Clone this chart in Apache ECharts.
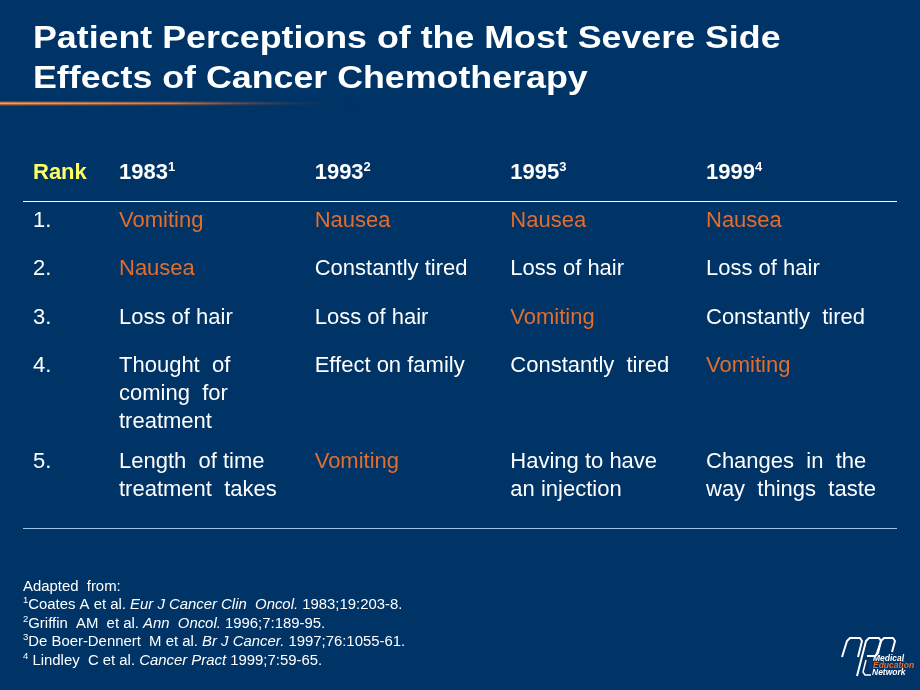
<!DOCTYPE html>
<html><head><meta charset="utf-8">
<style>html,body{margin:0;padding:0;background:#003366;}#c{width:920px;height:690px;}</style>
<script src="https://cdn.jsdelivr.net/npm/echarts@6/dist/echarts.min.js"></script>
</head><body><div id="c"></div>
<script>
// ---- data ----
const titleLines = ['Patient Perceptions of the Most Severe Side', 'Effects of Cancer Chemotherapy'];
const rankHeader = 'Rank';
const ranks = ['1.', '2.', '3.', '4.', '5.'];
const years = ['1983', '1993', '1995', '1999'];
const yearRefs = ['1', '2', '3', '4'];
const effects1983 = ['Vomiting', 'Nausea', 'Loss of hair', 'Thought  of\ncoming  for\ntreatment', 'Length  of time\ntreatment  takes'];
const effects1993 = ['Nausea', 'Constantly tired', 'Loss of hair', 'Effect on family', 'Vomiting'];
const effects1995 = ['Nausea', 'Loss of hair', 'Vomiting', 'Constantly  tired', 'Having to have\nan injection'];
const effects1999 = ['Nausea', 'Loss of hair', 'Constantly  tired', 'Vomiting', 'Changes  in  the\nway  things  taste'];
const highlighted = ['Nausea', 'Vomiting'];
const footnoteIntro = 'Adapted  from:';
const footnoteRefs = ['1', '2', '3', '4'];
const footnoteAuthors = ['Coates A et al. ', 'Griffin  AM  et al. ', 'De Boer-Dennert  M et al. ', ' Lindley  C et al. '];
const footnoteJournals = ['Eur J Cancer Clin  Oncol.', 'Ann  Oncol.', 'Br J Cancer.', 'Cancer Pract'];
const footnoteCitations = [' 1983;19:203-8.', ' 1996;7:189-95.', ' 1997;76:1055-61.', ' 1999;7:59-65.'];
const logoWords = ['Medical', 'Education', 'Network'];

// ---- build ----
const FONT = '"Liberation Sans", Arial, sans-serif';
const ORANGE = '#E26D2D';
const columns = [effects1983, effects1993, effects1995, effects1999];

// row slots: a rank whose cells wrap onto 3 lines takes an extra slot
const rowSlots = [rankHeader];
const rankSlot = [];
ranks.forEach((r, i) => {
  rankSlot.push(rowSlots.length);
  rowSlots.push(r);
  const lines = Math.max(...columns.map(col => col[i].split('\n').length));
  for (let k = 0; k < Math.floor((lines - 1) / 2); k++) rowSlots.push('');
});

const cellData = [];
const cellTexts = [];
columns.forEach((col, c) => {
  col.forEach((txt, i) => {
    cellData.push([c, rankSlot[i]]);
    cellTexts.push(txt);
  });
});

const graphics = [];
titleLines.forEach((t, i) => {
  graphics.push({
    type: 'text', x: 33, y: 39.5 + i * 39.5, scaleX: 1.118,
    style: { text: t, fill: '#ffffff', font: 'bold 32px ' + FONT, verticalAlign: 'middle', align: 'left' }
  });
});
graphics.push({
  type: 'rect', shape: { x: 0, y: 101.5, width: 360, height: 4 },
  style: { fill: new echarts.graphic.LinearGradient(0, 0, 1, 0, [
    { offset: 0, color: 'rgba(160,85,40,0.95)' }, { offset: 0.55, color: 'rgba(120,70,50,0.6)' }, { offset: 1, color: 'rgba(0,51,102,0)' }]) }
});
graphics.push({
  type: 'rect', shape: { x: 0, y: 102.5, width: 340, height: 1.8 },
  style: { fill: new echarts.graphic.LinearGradient(0, 0, 1, 0, [
    { offset: 0, color: '#F7A060' }, { offset: 0.5, color: 'rgba(235,135,70,0.85)' }, { offset: 1, color: 'rgba(0,51,102,0)' }]) }
});
graphics.push({ type: 'line', shape: { x1: 23, y1: 201.5, x2: 897, y2: 201.5 }, style: { stroke: '#ffffff', lineWidth: 1 } });
graphics.push({ type: 'line', shape: { x1: 23, y1: 528.5, x2: 897, y2: 528.5 }, style: { stroke: '#9DC3E6', lineWidth: 1 } });

// footnotes
const fnRich = {
  n: { fontSize: 14.9, fontFamily: FONT, color: '#ffffff' },
  i: { fontSize: 14.9, fontFamily: FONT, color: '#ffffff', fontStyle: 'italic' },
  s: { fontSize: 9.5, fontFamily: FONT, color: '#ffffff', verticalAlign: 'top', lineHeight: 13 }
};
let fnText = '{n|' + footnoteIntro + '}';
footnoteRefs.forEach((r, k) => {
  fnText += '\n{s|' + r + '}{n|' + footnoteAuthors[k] + '}{i|' + footnoteJournals[k] + '}{n|' + footnoteCitations[k] + '}';
});
graphics.push({
  type: 'text', x: 23, y: 586.5 - 9.25,
  style: { text: fnText, rich: fnRich, lineHeight: 18.5, verticalAlign: 'top', align: 'left', fill: '#fff' }
});

// logo
const logoStroke = { stroke: '#fff', fill: null, lineWidth: 2, lineJoin: 'round' };
graphics.push({
  type: 'group', children: [
    { type: 'polyline', shape: { points: [[842, 657], [847, 641], [850, 638], [860, 638], [862, 641], [858, 657]] }, style: logoStroke },
    { type: 'polyline', shape: { points: [[857, 676], [866, 641], [869, 638], [879, 638], [881, 641], [878, 653], [875, 656], [867, 656]] }, style: logoStroke },
    { type: 'polyline', shape: { points: [[876, 656], [881, 641], [884, 638], [893, 638], [895, 641], [892, 652]] }, style: logoStroke },
    { type: 'polyline', shape: { points: [[866, 660], [863, 672], [865, 675], [871, 675]] }, style: { stroke: '#fff', fill: null, lineWidth: 1.5 } },
    { type: 'text', x: 873, y: 659, style: { text: logoWords[0], fill: '#fff', font: 'italic bold 8.5px ' + FONT, verticalAlign: 'middle' } },
    { type: 'text', x: 873, y: 666, style: { text: logoWords[1], fill: ORANGE, font: 'italic bold 8.5px ' + FONT, verticalAlign: 'middle' } },
    { type: 'text', x: 872, y: 673, style: { text: logoWords[2], fill: '#fff', font: 'italic bold 8.5px ' + FONT, verticalAlign: 'middle' } }
  ]
});

const chart = echarts.init(document.getElementById('c'), null, { renderer: 'canvas' });
chart.setOption({
  backgroundColor: '#003366',
  animation: false,
  grid: { left: 119, right: 214, top: 173, bottom: 228 },
  xAxis: {
    type: 'category', position: 'top', boundaryGap: false, data: years,
    axisLine: { show: false }, axisTick: { show: false }, splitLine: { show: false },
    axisLabel: {
      interval: 0, margin: 0, align: 'left', verticalAlign: 'middle',
      formatter: (v, i) => '{y|' + v + '}{s|' + yearRefs[i] + '}',
      rich: {
        y: { fontSize: 22, fontWeight: 'bold', color: '#ffffff', fontFamily: FONT, lineHeight: 24 },
        s: { fontSize: 13, fontWeight: 'bold', color: '#ffffff', fontFamily: FONT, verticalAlign: 'top', lineHeight: 15 }
      }
    }
  },
  yAxis: {
    type: 'category', inverse: true, boundaryGap: false, data: rowSlots,
    axisLine: { show: false }, axisTick: { show: false }, splitLine: { show: false },
    axisLabel: {
      interval: 0, margin: 86, align: 'left', verticalAlign: 'middle',
      formatter: v => v === rankHeader ? '{h|' + v + '}' : '{r|' + v + '}',
      rich: {
        h: { fontSize: 22, fontWeight: 'bold', color: '#FFFF66', fontFamily: FONT },
        r: { fontSize: 22, color: '#ffffff', fontFamily: FONT }
      }
    }
  },
  series: [{
    type: 'custom',
    data: cellData,
    clip: false,
    renderItem: (params, api) => {
      const p = api.coord([api.value(0), api.value(1)]);
      const t = cellTexts[params.dataIndex];
      return {
        type: 'text', x: p[0], y: p[1] - 14,
        style: {
          text: t, fill: highlighted.includes(t) ? ORANGE : '#ffffff',
          font: '22px ' + FONT, align: 'left', verticalAlign: 'top', lineHeight: 28
        }
      };
    }
  }],
  graphic: graphics
});
</script>
</body></html>
